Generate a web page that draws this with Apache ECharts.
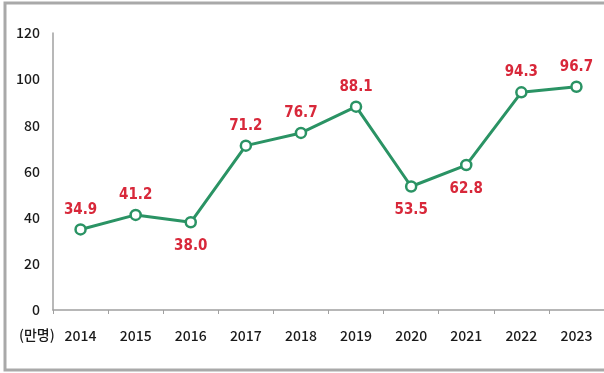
<!DOCTYPE html>
<html><head><meta charset="utf-8">
<script src="https://cdn.jsdelivr.net/npm/echarts@6/dist/echarts.min.js"></script>
<style>html,body{margin:0;padding:0;background:#fff}#c{width:604px;height:373px}</style>
</head><body><div id="c"></div>
<script>
const categories = ['2014','2015','2016','2017','2018','2019','2020','2021','2022','2023'];
const values = [34.9, 41.2, 38.0, 71.2, 76.7, 88.1, 53.5, 62.8, 94.3, 96.7];
const labelBelow = [false, false, true, false, false, false, true, true, false, false];
const yTicks = [0, 20, 40, 60, 80, 100, 120];
const unitLabel = '(만명)';

const chart = echarts.init(document.getElementById('c'), null, {renderer:'canvas'});
const data = values.map((v,i)=>({
  value: v,
  label: labelBelow[i] ? {position:'bottom', distance: 10} : {position:'top', distance: 6}
}));
chart.setOption({
  animation:false,
  graphic:[
    {type:'rect', shape:{x:5, y:3, width:720, height:367}, style:{fill:'none', stroke:'#a9a9a9', lineWidth:3}, z:-1},
    {type:'text', left:19, top:328, style:{text:unitLabel, fill:'#1a1a1a', font:'500 14px "Noto Sans CJK KR"'}}
  ],
  grid:{left:53, top:33, width:559, height:277},
  xAxis:{type:'category', data:categories, boundaryGap:true,
    axisLine:{lineStyle:{color:'#a0a0a0', width:1.5}},
    axisTick:{show:true, length:4, lineStyle:{color:'#a0a0a0'}},
    axisLabel:{color:'#1a1a1a', fontSize:14, fontWeight:500, fontFamily:'Noto Sans CJK KR', margin:19}},
  yAxis:{type:'value', min:yTicks[0], max:yTicks[yTicks.length-1], interval:20,
    axisLine:{show:true, lineStyle:{color:'#a0a0a0', width:1.5}},
    axisTick:{show:false}, splitLine:{show:false},
    axisLabel:{color:'#1a1a1a', fontSize:14, fontWeight:500, fontFamily:'Noto Sans CJK KR', margin:13}},
  series:[{type:'line', data:data, symbol:'circle', symbolSize:10,
    lineStyle:{color:'#2a9364', width:3},
    itemStyle:{color:'#fff', borderColor:'#2a9364', borderWidth:2.5},
    label:{show:true, color:'#d8283a', fontSize:15, fontWeight:'bold',
      fontFamily:"'Liberation Sans Narrow', 'DejaVu Sans Condensed', Roboto, sans-serif",
      formatter:p=>p.value.toFixed(1)}
  }]
});
</script></body></html>
